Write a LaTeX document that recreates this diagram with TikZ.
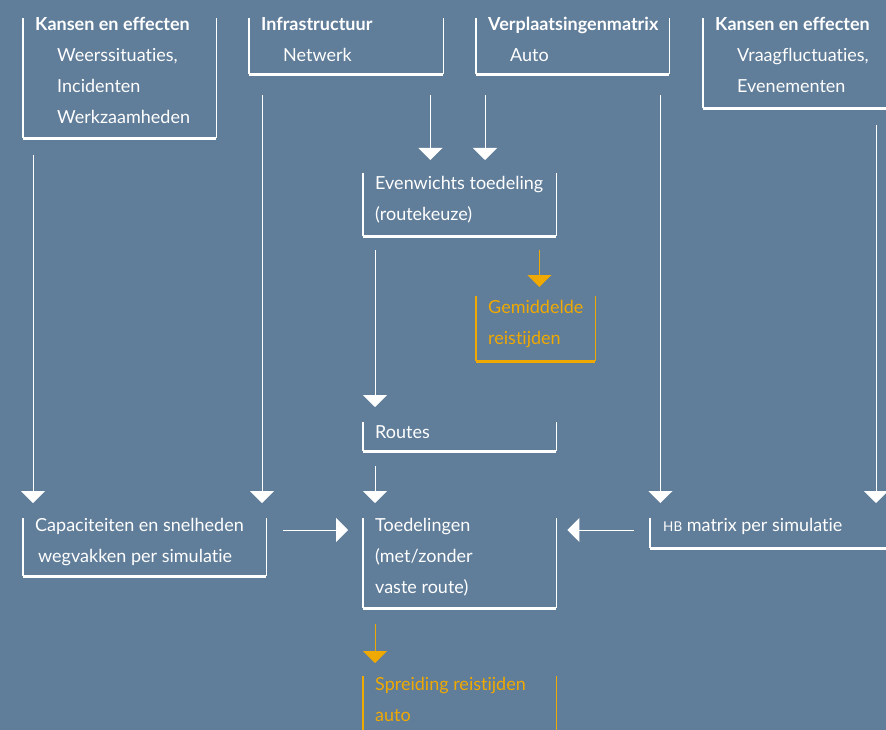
\documentclass[tikz,border=0pt]{standalone}
\usepackage{fontspec}
\setmainfont{Lato}[Ligatures=NoCommon]
\usepackage{tikz}
\usetikzlibrary{arrows.meta,positioning,calc}

\definecolor{achtergrond}{RGB}{96,125,153}
\definecolor{oranje}{RGB}{239,169,0}

% open kader: twee zijkanten en een dikke onderkant
\newcommand{\ubox}[2][white]{%
  \draw[#1,line width=1.1pt] (#2.north west) -- (#2.south west);
  \draw[#1,line width=1.1pt] (#2.north east) -- (#2.south east);
  \draw[#1,line width=2.4pt] (#2.south west) -- (#2.south east);}

\tikzset{
  blok/.style={inner sep=0pt, anchor=north west},
  tekst/.style={inner sep=0pt, anchor=north west, align=left, text=white,
    font=\fontsize{18}{31}\selectfont},
  pijl/.style={draw=white, line width=1pt, -{Triangle[width=24pt,length=12pt]}},
  opijl/.style={pijl, draw=oranje}
}

\begin{document}
\begin{tikzpicture}[x=1pt,y=-1pt]
  \useasboundingbox (0,0) rectangle (886,730);
  \fill[achtergrond] (0,0) rectangle (886,730);
  \clip (0,0) rectangle (886,730);

  % bovenste rij
  \node[blok, minimum width=193pt, minimum height=120pt] (kans1) at (23,18) {};
  \node[blok, minimum width=194pt, minimum height=56pt] (infra) at (249,18) {};
  \node[blok, minimum width=193pt, minimum height=56pt] (verp) at (476,18) {};
  \node[blok, minimum width=200pt, minimum height=90pt] (kans2) at (703,18) {};
  % midden
  \node[blok, minimum width=193pt, minimum height=63pt] (even) at (363,173) {};
  \node[blok, minimum width=119pt, minimum height=65pt] (gem) at (476,296) {};
  \node[blok, minimum width=193pt, minimum height=29pt] (routes) at (363,422) {};
  % onderste rij
  \node[blok, minimum width=243pt, minimum height=58pt] (cap) at (23,518) {};
  \node[blok, minimum width=193pt, minimum height=90pt] (toed) at (363,518) {};
  \node[blok, minimum width=250pt, minimum height=30pt] (hb) at (650,518) {};
  \node[blok, minimum width=193pt, minimum height=80pt] (spr) at (363,676) {};

  \ubox{kans1} \ubox{infra} \ubox{verp} \ubox{kans2}
  \ubox{even} \ubox[oranje]{gem} \ubox{routes}
  \ubox{cap} \ubox{toed} \ubox{hb} \ubox[oranje]{spr}

  \node[tekst] (kans1t) at ([xshift=12pt,yshift=1pt]kans1.north west)
    {\textbf{Kansen en effecten}\\ \hspace*{22pt}Weerssituaties,\\
     \hspace*{22pt}Incidenten\\ \hspace*{22pt}Werkzaamheden};
  \node[tekst] (infrat) at ([xshift=12pt,yshift=1pt]infra.north west)
    {\textbf{Infrastructuur}\\ \hspace*{22pt}Netwerk};
  \node[tekst] (verpt) at ([xshift=12pt,yshift=1pt]verp.north west)
    {\textbf{Verplaatsingenmatrix}\\ \hspace*{22pt}Auto};
  \node[tekst] (kans2t) at ([xshift=12pt,yshift=1pt]kans2.north west)
    {\textbf{Kansen en effecten}\\ \hspace*{22pt}Vraagfluctuaties,\\
     \hspace*{22pt}Evenementen};
  \node[tekst] (event) at ([xshift=12pt,yshift=-3pt]even.north west)
    {Evenwichts toedeling\\ (routekeuze)};
  \node[tekst, text=oranje] (gemt) at ([xshift=12pt,yshift=-4pt]gem.north west)
    {Gemiddelde\\ reistijden};
  \node[tekst] (routest) at ([xshift=12pt,yshift=-3pt]routes.north west) {Routes};
  \node[tekst] (capt) at ([xshift=12pt]cap.north west)
    {Capaciteiten en snelheden\\ \hspace*{3pt}wegvakken per simulatie};
  \node[tekst] (toedt) at ([xshift=12pt]toed.north west)
    {Toedelingen\\ (met/zonder\\ vaste route)};
  \node[tekst] (hbt) at ([xshift=13pt]hb.north west)
    {{\fontsize{13.5}{31}\selectfont HB} matrix per simulatie};
  \node[tekst, text=oranje] (sprt) at ([xshift=12pt,yshift=-1pt]spr.north west)
    {Spreiding reistijden\\ auto};

  % pijlen
  \draw[pijl, shorten <=17pt, shorten >=15pt] ([xshift=10pt]kans1.south west) -- ([xshift=10pt]cap.north west);
  \draw[pijl, shorten <=21pt, shorten >=15pt] ([xshift=13pt]infra.south west) -- ([xshift=13pt]infra.south west |- cap.north);
  \draw[pijl, shorten <=21pt, shorten >=13pt] ([xshift=-13pt]infra.south east) -- ([xshift=-13pt]infra.south east |- even.north);
  \draw[pijl, shorten <=21pt, shorten >=13pt] ([xshift=9pt]verp.south west) -- ([xshift=9pt]verp.south west |- even.north);
  \draw[pijl, shorten <=21pt, shorten >=15pt] ([xshift=-9pt]verp.south east) -- ([xshift=-9pt]verp.south east |- hb.north);
  \draw[pijl, shorten <=17pt, shorten >=15pt] ([xshift=173pt]kans2.south west) -- ([xshift=173pt]kans2.south west |- hb.north);
  \draw[opijl, shorten <=14pt, shorten >=9pt] ([xshift=-17pt]even.south east) -- ([xshift=-17pt]even.south east |- gem.north);
  \draw[pijl, shorten <=14pt, shorten >=15pt] ([xshift=12pt]even.south west) -- ([xshift=12pt]routes.north west);
  \draw[pijl, shorten <=15pt, shorten >=15pt] ([xshift=12pt]routes.south west) -- ([xshift=12pt]toed.north west);
  \draw[pijl, shorten <=17pt, shorten >=15pt] ([yshift=-12pt]cap.north east) -- ([yshift=-12pt]cap.north east -| toed.west);
  \draw[pijl, shorten <=16pt, shorten >=11pt] ([yshift=-12pt]hb.north west) -- ([yshift=-12pt]hb.north west -| toed.east);
  \draw[opijl, shorten <=16pt, shorten >=13pt] ([xshift=12pt]toed.south west) -- ([xshift=12pt]spr.north west);
\end{tikzpicture}
\end{document}
